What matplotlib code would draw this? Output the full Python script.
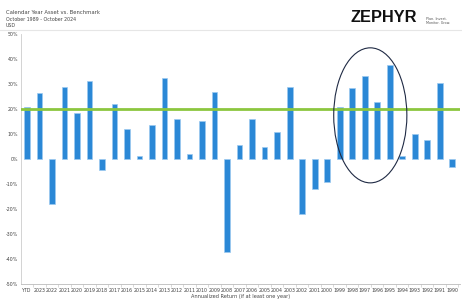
import matplotlib.pyplot as plt
from matplotlib.patches import Ellipse

years = ["YTD"] + [str(y) for y in range(2023, 1989, -1)]
returns = [20.9, 26.3, -18.1, 28.7, 18.4, 31.3, -4.4, 21.9, 11.9, 1.2,
           13.6, 32.3, 16.0, 2.0, 15.1, 26.7, -37.2, 5.5, 15.9, 4.9,
           10.9, 28.7, -22.1, -12.0, -9.2, 20.9, 28.5, 33.3, 22.9, 37.6,
           1.2, 9.9, 7.6, 30.5, -3.1]
benchmark = 19.8
y_ticks = [50, 40, 30, 20, 10, 0, -10, -20, -30, -40, -50]

fig = plt.figure(figsize=(4.62, 3.02), dpi=100)
ax = fig.add_axes([0.045, 0.06, 0.95, 0.828])

x = list(range(len(years)))
ax.bar(x, returns, width=0.46, color="#2b88d6", edgecolor="#9ccaf0", linewidth=0.5, zorder=2)
ax.axhline(benchmark, color="#8cc63f", lw=2.0, zorder=3)

# circle around the late-90s run
ax.add_patch(Ellipse((27.45, 17.4), 5.85, 54, fill=False, edgecolor="#1f2a44", lw=0.8, zorder=4))

ax.set_xlim(-0.5, 34.6)
ax.set_ylim(-50, 50)
ax.set_yticks(y_ticks)
ax.set_yticklabels([f"{t}%" for t in y_ticks])
ax.set_xticks(x)
ax.set_xticklabels(years)
ax.tick_params(axis="both", labelsize=3.4, colors="#444444", length=0, pad=2)
ax.tick_params(axis="x", pad=3)
ax.set_xticks([i + 0.5 for i in x], minor=True)
ax.tick_params(axis="x", which="minor", length=2, width=0.4, color="#bbbbbb")
for s in ["top", "right"]:
    ax.spines[s].set_visible(False)
ax.spines["left"].set_color("#cccccc")
ax.spines["bottom"].set_color("#bbbbbb")
ax.spines["left"].set_linewidth(0.6)
ax.spines["bottom"].set_linewidth(0.6)
ax.set_xlabel("Annualized Return (if at least one year)", fontsize=3.6, color="#444444", labelpad=1)

fig.text(0.012, 0.955, "Calendar Year Asset vs. Benchmark", fontsize=3.8, color="#444444")
fig.text(0.012, 0.932, "October 1989 - October 2024", fontsize=3.4, color="#444444")
fig.text(0.012, 0.910, "USD", fontsize=3.4, color="#444444")
fig.text(0.758, 0.927, "ZEPHYR", fontsize=11.8, fontweight="bold", color="#111111",
         family="Liberation Sans")
fig.text(0.922, 0.945, "Plan. Invest.\nMonitor. Grow.", fontsize=2.4, color="#555555", va="top", linespacing=1.0)
fig.add_artist(plt.Line2D([0.0, 1.0], [0.902, 0.902], color="#e6e6e6", lw=0.8, transform=fig.transFigure))

fig.savefig("out.png", dpi=100)
